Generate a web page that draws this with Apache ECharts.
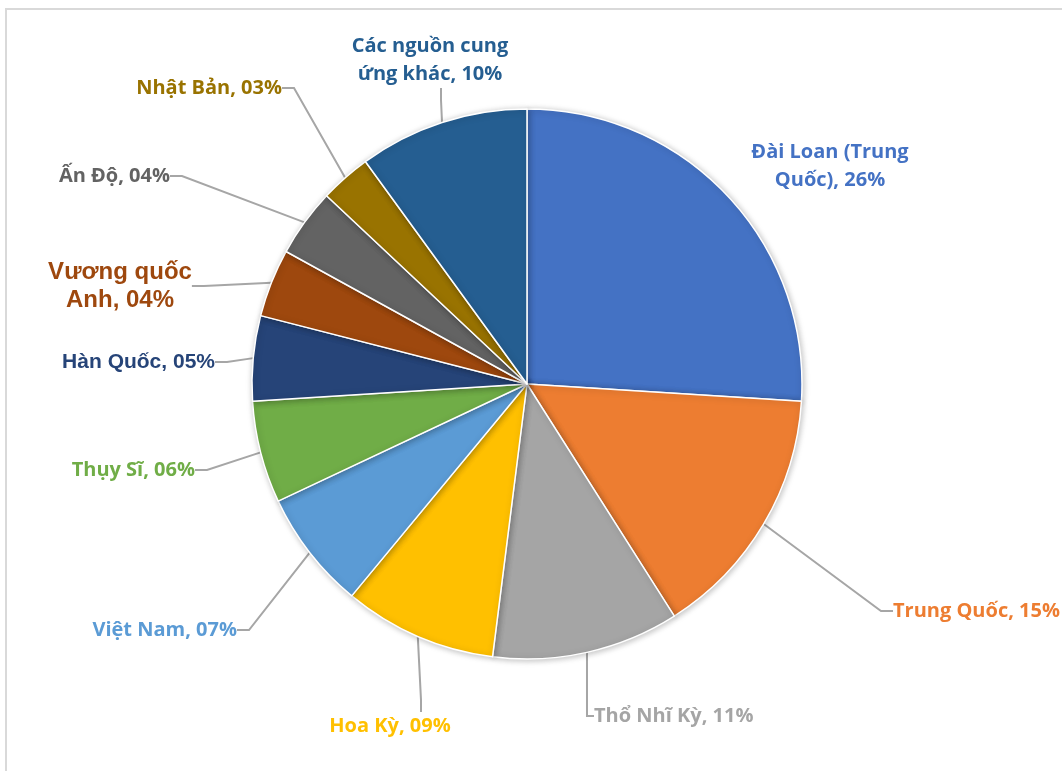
<!DOCTYPE html>
<html>
<head>
<meta charset="utf-8">
<script src="https://cdn.jsdelivr.net/npm/echarts@6/dist/echarts.min.js"></script>
<style>
html,body{margin:0;padding:0;background:#fff;}
#chart{width:1062px;height:771px;}
</style>
</head>
<body>
<div id="chart"></div>
<script>
// Data
var names = ['Đài Loan (Trung\nQuốc)', 'Trung Quốc', 'Thổ Nhĩ Kỳ', 'Hoa Kỳ', 'Việt Nam', 'Thụy Sĩ', 'Hàn Quốc', 'Vương quốc\nAnh', 'Ấn Độ', 'Nhật Bản', 'Các nguồn cung\nứng khác'];
var values = [26, 15, 11, 9, 7, 6, 5, 4, 4, 3, 10];

// Styles (kept apart from data)
var colors = ['#4472C4', '#ED7D31', '#A5A5A5', '#FFC000', '#5B9BD5', '#70AD47', '#264478', '#9E480E', '#636363', '#997300', '#255E91'];
var fonts = ['Open Sans', 'Open Sans', 'Open Sans', 'Open Sans', 'Open Sans', 'Open Sans', 'Liberation Sans', 'Liberation Sans', 'Open Sans', 'Open Sans', 'Open Sans'];
var fontSizes = [20, 20, 20, 20, 20, 20, 21, 24, 20, 20, 20];
// right padding used to shift where the leader line attaches
var padRight = [0, 0, 0, 62, 0, 0, 0, 0, 0, 0, 22];
// label placement [x, y, align]
var labelPos = [
  [830, 166, 'center'],
  [893, 611, 'left'],
  [594, 716, 'left'],
  [421, 726, 'center'],
  [237, 630, 'right'],
  [195, 470, 'right'],
  [215, 362, 'right'],
  [120, 286, 'center'],
  [170, 176, 'right'],
  [282, 88, 'right'],
  [441, 60, 'center']
];

function pad(v){ return (v < 10 ? '0' : '') + v; }

var chart = echarts.init(document.getElementById('chart'));
var data = names.map(function(n, i){
  return {
    name: n,
    value: values[i],
    itemStyle: { color: colors[i] },
    label: { color: colors[i], fontFamily: fonts[i], fontSize: fontSizes[i], padding: [0, padRight[i], 0, 0] },
    labelLine: { show: i !== 0 }
  };
});

chart.setOption({
  animation: false,
  graphic: [{
    type: 'rect',
    shape: { x: 6, y: 9, width: 1200, height: 900 },
    style: { fill: 'none', stroke: '#d9d9d9', lineWidth: 2 },
    silent: true
  }],
  series: [{
    type: 'pie',
    center: [527, 384],
    radius: 275,
    startAngle: 90,
    clockwise: true,
    data: data,
    itemStyle: {
      borderColor: '#fff',
      borderWidth: 1.5,
      shadowBlur: 6,
      shadowColor: 'rgba(0,0,0,0.25)',
      shadowOffsetX: 1,
      shadowOffsetY: 1
    },
    label: {
      show: true,
      position: 'outside',
      alignTo: 'none',
      fontWeight: 'bold',
      lineHeight: 28,
      formatter: function(p){ return p.name + ', ' + pad(p.value) + '%'; }
    },
    labelLine: {
      show: true,
      length: 20,
      length2: 12,
      lineStyle: { color: '#a6a6a6', width: 2 }
    },
    labelLayout: function(p){
      var lp = labelPos[p.dataIndex];
      return { x: lp[0], y: lp[1], align: lp[2], verticalAlign: 'middle' };
    },
    emphasis: { disabled: true }
  }]
});
</script>
</body>
</html>
